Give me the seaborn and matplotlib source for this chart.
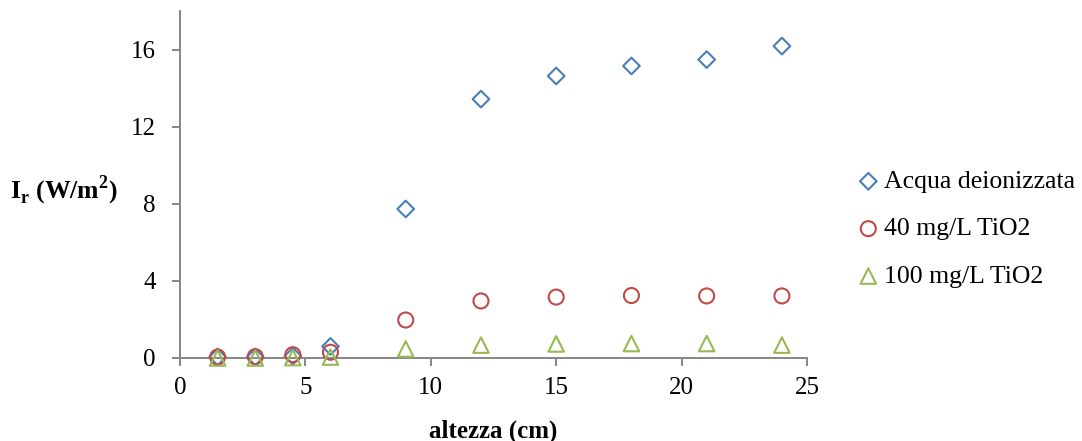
import matplotlib
matplotlib.use("Agg")
import matplotlib.pyplot as plt
import seaborn as sns
import pandas as pd

# Measurement heights (cm) and reflected irradiance (W/m^2)
altezza = [1.5, 3, 4.5, 6, 9, 12, 15, 18, 21, 24]
acqua = [0.05, 0.05, 0.1, 0.6, 7.73, 13.43, 14.63, 15.15, 15.48, 16.18]
tio2_40 = [0.05, 0.07, 0.17, 0.3, 1.97, 2.96, 3.16, 3.24, 3.22, 3.22]
tio2_100 = [0.0, 0.0, 0.02, 0.05, 0.47, 0.67, 0.73, 0.75, 0.75, 0.67]

series_names = ["Acqua deionizzata", "40 mg/L TiO2", "100 mg/L TiO2"]
series_values = [acqua, tio2_40, tio2_100]
series_colors = ["#4A7EBB", "#BE4B48", "#98B954"]
series_markers = ["D", "o", "^"]
series_sizes = [72, 117, 125]

x_ticks = [0, 5, 10, 15, 20, 25]
y_ticks = [0, 4, 8, 12, 16]

sns.set_theme(style="white")
plt.rcParams["font.family"] = ["Liberation Serif", "DejaVu Serif"]
plt.rcParams["mathtext.fontset"] = "custom"
plt.rcParams["mathtext.rm"] = "Liberation Serif"
plt.rcParams["mathtext.bf"] = "Liberation Serif:bold"
plt.rcParams["text.color"] = "black"
plt.rcParams["axes.labelcolor"] = "black"

fig = plt.figure(figsize=(10.82, 4.41), dpi=100)
ax = fig.add_axes([180 / 1082, 83 / 441, 627 / 1082, 347 / 441])

for name, vals, col, mk, sz in zip(series_names, series_values, series_colors,
                                    series_markers, series_sizes):
    df = pd.DataFrame({"altezza": altezza, "Ir": vals})
    sns.scatterplot(data=df, x="altezza", y="Ir", ax=ax, marker=mk, s=sz,
                    facecolor="none", edgecolor=col, linewidth=1.5,
                    label=name, zorder=3, clip_on=False)

ax.set_xlim(0, 25)
ax.set_ylim(0, 18)
ax.set_xticks(x_ticks)
ax.set_yticks(y_ticks)

spine_col = "#868686"
for side in ["top", "right"]:
    ax.spines[side].set_visible(False)
for side in ["left", "bottom"]:
    ax.spines[side].set_color(spine_col)
    ax.spines[side].set_linewidth(1.4)

ax.tick_params(axis="both", which="major", direction="out", length=5.5,
               width=1.4, color=spine_col, labelsize=18, labelcolor="black",
               left=True, bottom=True)
ax.tick_params(axis="x", pad=8)
ax.tick_params(axis="y", pad=12)

ax.set_xlabel("altezza (cm)", fontsize=18, fontweight="bold", labelpad=15,
              color="black")
ax.set_ylabel(r"$\mathbf{I}_\mathbf{r}$ (W/m$^\mathbf{2}$)", fontsize=18.5,
              fontweight="bold", rotation=0, ha="left", va="center",
              color="black")
ax.yaxis.set_label_coords(-170 / 627, (358 - 190) / 347)

leg = ax.legend(loc="center left", bbox_to_anchor=(1.065, 0.372), frameon=False,
                fontsize=18.5, handletextpad=0.2, labelspacing=0.95,
                handlelength=0.8, borderaxespad=0, labelcolor="black")

fig.savefig("out.png", dpi=100)
